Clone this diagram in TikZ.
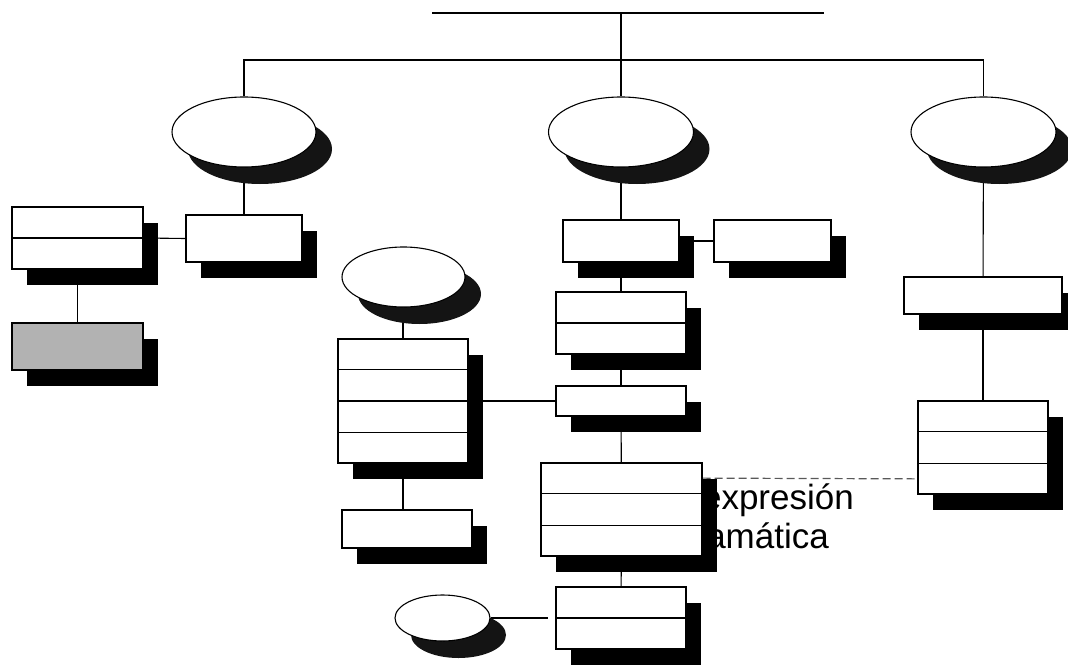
\documentclass[tikz,border=0pt]{standalone}
\usepackage{fontspec}
\setmainfont{Liberation Sans}
\usetikzlibrary{shapes.geometric,shadows,calc}
\pgfdeclarelayer{bg}
\pgfsetlayers{bg,main}
\tikzset{
  box/.style={draw=black, line width=1.1pt, fill=white, rectangle, inner sep=0pt,
    drop shadow={shadow xshift=15pt, shadow yshift=-16pt, fill=black, opacity=1}},
  greybox/.style={box, fill=black!30},
  oval/.style={draw=black, ellipse, fill=white, inner sep=0pt, line width=1.1pt,
    drop shadow={shadow xshift=16pt, shadow yshift=-17pt, fill=black!92, opacity=1}},
  conn/.style={line width=1.1pt},
  dashconn/.style={line width=1.2pt, draw=black!65, dash pattern=on 8pt off 4pt},
  lbl/.style={font=\fontsize{35}{40}\selectfont, inner sep=0pt, anchor=base east}
}
\newcommand\divline[2]{\draw[conn] ($(#1.north west)!#2!(#1.south west)$) -- ($(#1.north east)!#2!(#1.south east)$);}
\begin{document}
\begin{tikzpicture}[x=1pt,y=-1pt]
\useasboundingbox (0,0) rectangle (1068,666);
% top line and bus
\coordinate (topL) at (432,13);
\coordinate (topR) at (824,13);
\coordinate (top) at (621,13);
\coordinate (bus) at (621,60);
% ellipses
\node[oval, minimum width=144pt, minimum height=70pt] (E1) at (244,132) {};
\node[oval, minimum width=145pt, minimum height=70pt] (E2) at (621,132) {};
\node[oval, minimum width=145pt, minimum height=70pt] (E3) at (983.5,132) {};
\node[oval, minimum width=123pt, minimum height=60pt] (SE) at (403.5,277) {};
\node[oval, minimum width=95pt, minimum height=46pt] (SE2) at (442.5,618) {};
% left boxes
\node[box, minimum width=131pt, minimum height=62pt] (Bl1) at (77.5,238) {};
\node[greybox, minimum width=131pt, minimum height=47pt] (Bg) at (77.5,346.5) {};
\node[box, minimum width=116pt, minimum height=47pt] (Bl2) at (244,238.5) {};
% middle column
\node[box, minimum width=116pt, minimum height=42pt] (A) at (621,241) {};
\node[box, minimum width=117pt, minimum height=42pt] (B) at (772.5,241) {};
\node[box, minimum width=130pt, minimum height=62pt] (C) at (621,323) {};
\node[box, minimum width=130pt, minimum height=30pt] (D) at (621,401) {};
\node[box, minimum width=161pt, minimum height=93pt] (E) at (621.5,509.5) {};
\node[box, minimum width=130pt, minimum height=62pt] (H) at (621,618) {};
\node[box, minimum width=130pt, minimum height=124pt] (F) at (403,401) {};
\node[box, minimum width=130pt, minimum height=38pt] (G) at (407,529) {};
% right column
\node[box, minimum width=158pt, minimum height=37pt] (I) at (983,295.5) {};
\node[box, minimum width=130pt, minimum height=93pt] (J) at (983,447.5) {};
% dividers
\divline{Bl1}{0.5}
\divline{C}{0.5}
\divline{E}{1/3}
\divline{E}{2/3}
\divline{H}{0.5}
\divline{F}{0.25}
\divline{F}{0.5}
\divline{F}{0.75}
\divline{J}{1/3}
\divline{J}{2/3}
\begin{pgfonlayer}{bg}
\draw[conn] (topL) -- (topR);
\draw[conn] (top) -- (E2.north);
\draw[conn] (E1.north) -- (E1.north |- bus) -- (E3.north |- bus) -- (E3.north);
\draw[conn] (E1) -- (Bl2);
\draw[conn] (Bl1.east) -- (Bl2.west);
\draw[conn] (Bl1.south) -- (Bg.north);
\draw[conn] (E2) -- (A);
\draw[conn] (A.east) -- (B.west);
\draw[conn] (A) -- (C);
\draw[conn] (C) -- (D);
\draw[conn] (D) -- (E);
\draw[conn] (E) -- (H);
\draw[conn] (F.north |- SE) -- (F.north);
\draw[conn] (F.south) -- (F.south |- G.north);
\draw[conn] (F.east) -- (D.west);
\draw[conn, shorten >=7pt] (SE2.east) -- (H.west);
\draw[conn] (E3) -- (I);
\draw[conn] (I) -- (J);
\draw[dashconn] ($(E.north east)!1/6!(E.south east)$) -- ($(J.north west)!5/6!(J.south west)$);
\node[lbl] (t1) at (854,509) {expresión};
\node[lbl] (t2) at (829,548) {amática};
\end{pgfonlayer}
\end{tikzpicture}
\end{document}
